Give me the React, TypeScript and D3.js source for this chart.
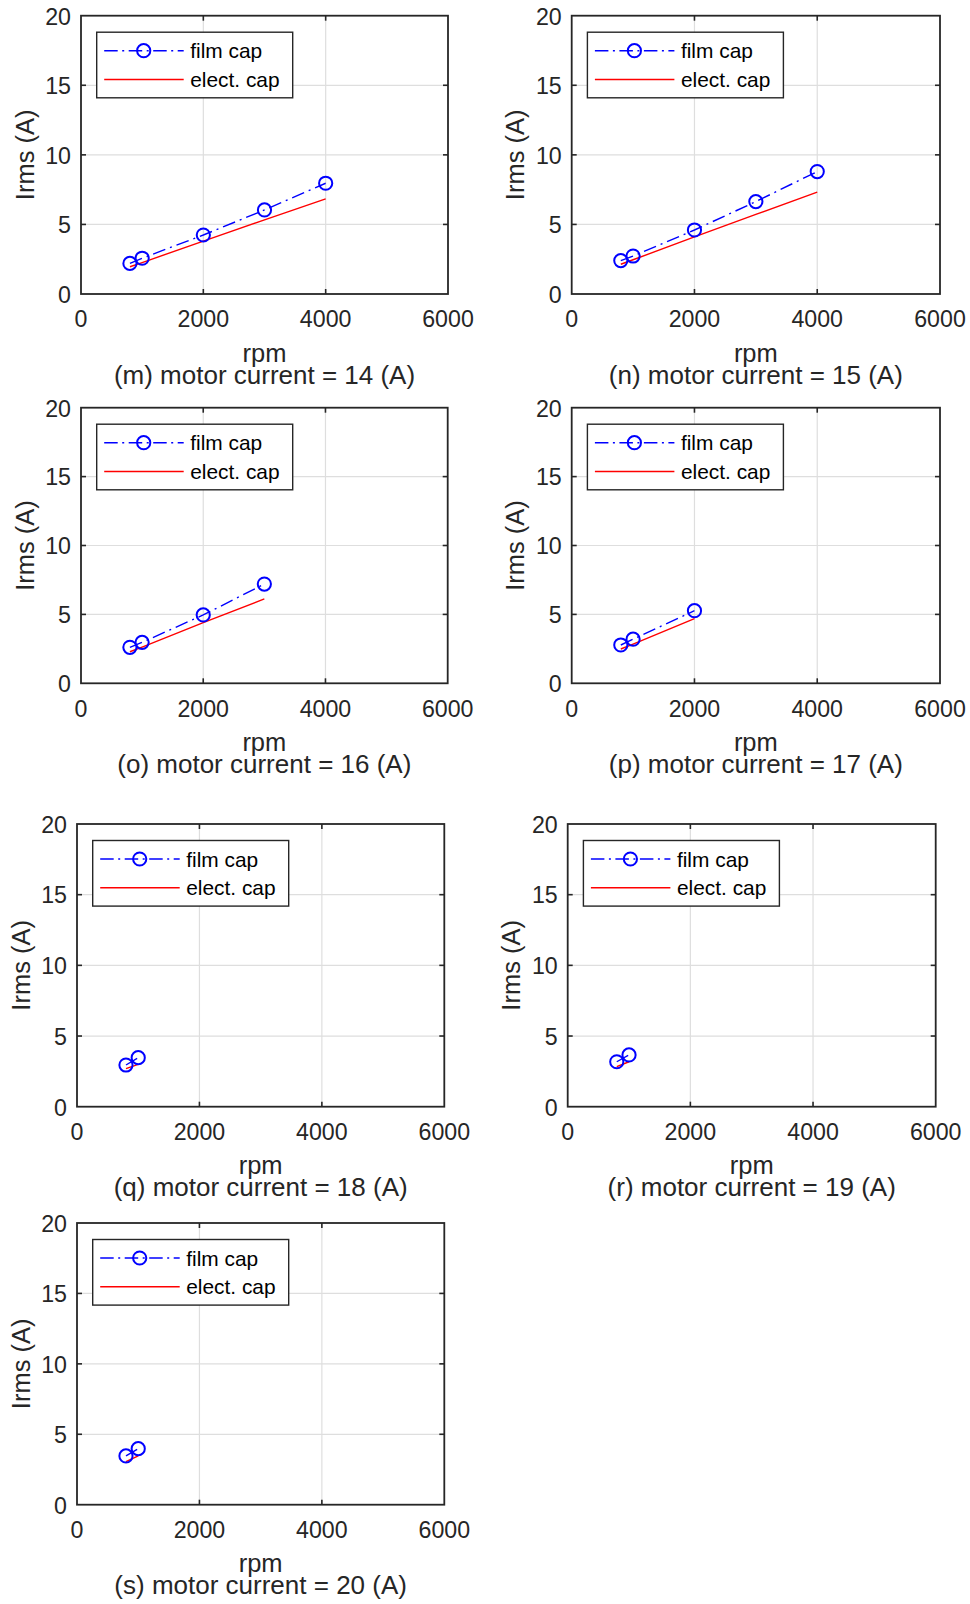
import React from "react";
import * as d3 from "d3";

// ---------- data ----------
const panelLetters = ["m", "n", "o", "p", "q", "r", "s"];
const motorCurrents = [14, 15, 16, 17, 18, 19, 20];

const rpmM = [800, 1000, 2000, 3000, 4000];
const filmM = [2.2, 2.57, 4.24, 6.04, 7.96];
const electM = [1.96, 2.26, 3.8, 5.33, 6.83];

const rpmN = [800, 1000, 2000, 3000, 4000];
const filmN = [2.4, 2.73, 4.6, 6.64, 8.8];
const electN = [2.14, 2.46, 4.1, 5.72, 7.32];

const rpmO = [800, 1000, 2000, 3000];
const filmO = [2.61, 2.97, 4.96, 7.2];
const electO = [2.29, 2.63, 4.4, 6.12];

const rpmP = [800, 1000, 2000];
const filmP = [2.78, 3.2, 5.27];
const electP = [2.49, 2.85, 4.69];

const rpmQ = [800, 1000];
const filmQ = [2.95, 3.47];
const electQ = [2.69, 3.0];

const rpmR = [800, 1000];
const filmR = [3.18, 3.66];
const electR = [2.83, 3.18];

const rpmS = [800, 1000];
const filmS = [3.46, 3.98];
const electS = [3.05, 3.46];

const xTicks = [0, 2000, 4000, 6000];
const yTicks = [0, 5, 10, 15, 20];
const legendLabels = ["film cap", "elect. cap"];
const xLabel = "rpm";
const yLabel = "Irms (A)";

const seriesRpm = [rpmM, rpmN, rpmO, rpmP, rpmQ, rpmR, rpmS];
const seriesFilm = [filmM, filmN, filmO, filmP, filmQ, filmR, filmS];
const seriesElect = [electM, electN, electO, electP, electQ, electR, electS];

// ---------- layout (pixel boxes of each axes) ----------
const boxes = [
  { L: 81, R: 448, T: 15.7, B: 294 },
  { L: 571.7, R: 940, T: 15.7, B: 294 },
  { L: 81, R: 447.7, T: 407.7, B: 683.3 },
  { L: 571.7, R: 940, T: 407.7, B: 683.3 },
  { L: 77, R: 444.3, T: 824, B: 1106.7 },
  { L: 567.7, R: 935.7, T: 824, B: 1106.7 },
  { L: 77, R: 444.3, T: 1223, B: 1504.7 },
];

const FONT = "'Liberation Sans', Arial, Helvetica, sans-serif";
const AX = "#262626";
const GRID = "#dedede";
const BLUE = "#0000ff";
const RED = "#ff0000";

function Panel({ idx }: { idx: number }) {
  const b = boxes[idx];
  const x = d3.scaleLinear().domain([0, 6000]).range([b.L, b.R]);
  const y = d3.scaleLinear().domain([0, 20]).range([b.B, b.T]);
  const rpm = seriesRpm[idx];
  const film = seriesFilm[idx];
  const elect = seriesElect[idx];
  const line = d3
    .line<number>()
    .x((_, i) => x(rpm[i]))
    .y((d) => y(d));
  const tickLen = 5;
  const cx = (b.L + b.R) / 2;
  const cy = (b.T + b.B) / 2;

  // legend
  const lx = b.L + 15.7;
  const ly = b.T + 16.5;
  const lw = 196;
  const lh = 65.6;
  const row1 = ly + 18.5;
  const row2 = ly + 47.3;

  return (
    <g>
      <rect x={b.L} y={b.T} width={b.R - b.L} height={b.B - b.T} fill="#fff" />
      {/* grid */}
      {xTicks.slice(1, -1).map((t) => (
        <line key={"gx" + t} x1={x(t)} x2={x(t)} y1={b.T} y2={b.B} stroke={GRID} strokeWidth={1.2} />
      ))}
      {yTicks.slice(1, -1).map((t) => (
        <line key={"gy" + t} x1={b.L} x2={b.R} y1={y(t)} y2={y(t)} stroke={GRID} strokeWidth={1.2} />
      ))}
      {/* data */}
      <path d={line(elect) || ""} fill="none" stroke={RED} strokeWidth={1.4} />
      <path
        d={line(film) || ""}
        fill="none"
        stroke={BLUE}
        strokeWidth={1.4}
        strokeDasharray="13 5 2 5"
      />
      {film.map((v, i) => (
        <circle key={"c" + i} cx={x(rpm[i])} cy={y(v)} r={6.6} fill="none" stroke={BLUE} strokeWidth={2} />
      ))}
      {/* ticks */}
      {xTicks.slice(1, -1).map((t) => (
        <g key={"tx" + t}>
          <line x1={x(t)} x2={x(t)} y1={b.B} y2={b.B - tickLen} stroke={AX} strokeWidth={1.6} />
          <line x1={x(t)} x2={x(t)} y1={b.T} y2={b.T + tickLen} stroke={AX} strokeWidth={1.6} />
        </g>
      ))}
      {yTicks.slice(1, -1).map((t) => (
        <g key={"ty" + t}>
          <line x1={b.L} x2={b.L + tickLen} y1={y(t)} y2={y(t)} stroke={AX} strokeWidth={1.6} />
          <line x1={b.R} x2={b.R - tickLen} y1={y(t)} y2={y(t)} stroke={AX} strokeWidth={1.6} />
        </g>
      ))}
      <rect x={b.L} y={b.T} width={b.R - b.L} height={b.B - b.T} fill="none" stroke={AX} strokeWidth={1.8} />
      {/* tick labels */}
      {xTicks.map((t) => (
        <text key={"lx" + t} x={x(t)} y={b.B + 33.3} textAnchor="middle" fontSize={23.2} fill={AX} fontFamily={FONT}>
          {t}
        </text>
      ))}
      {yTicks.map((t) => (
        <text key={"ly" + t} x={b.L - 10} y={y(t) + 8.8} textAnchor="end" fontSize={23.2} fill={AX} fontFamily={FONT}>
          {t}
        </text>
      ))}
      {/* axis labels */}
      <text x={cx} y={b.B + 67.5} textAnchor="middle" fontSize={25.5} fill={AX} fontFamily={FONT}>
        {xLabel}
      </text>
      <text x={cx} y={b.B + 89.5} textAnchor="middle" fontSize={26} fill={AX} fontFamily={FONT}>
        {`(${panelLetters[idx]}) motor current = ${motorCurrents[idx]} (A)`}
      </text>
      <text
        transform={`translate(${b.L - 47.5},${cy}) rotate(-90)`}
        textAnchor="middle"
        fontSize={25.5}
        fill={AX}
        fontFamily={FONT}
      >
        {yLabel}
      </text>
      {/* legend */}
      <rect x={lx} y={ly} width={lw} height={lh} fill="#fff" stroke={AX} strokeWidth={1.4} />
      <line x1={lx + 7.5} x2={lx + 87} y1={row1} y2={row1} stroke={BLUE} strokeWidth={1.4} strokeDasharray="13.5 4.5 2 4.5" />
      <circle cx={lx + 47} cy={row1} r={6.6} fill="none" stroke={BLUE} strokeWidth={2} />
      <line x1={lx + 7.5} x2={lx + 87} y1={row2} y2={row2} stroke={RED} strokeWidth={1.4} />
      <text x={lx + 93.5} y={row1 + 7.5} fontSize={20.9} fill="#000" fontFamily={FONT}>
        {legendLabels[0]}
      </text>
      <text x={lx + 93.5} y={row2 + 7.5} fontSize={20.9} fill="#000" fontFamily={FONT}>
        {legendLabels[1]}
      </text>
    </g>
  );
}

export default function App() {
  return (
    <svg
      width={970}
      height={1604}
      viewBox="0 0 970 1604"
      style={{ position: "absolute", left: 0, top: 0, background: "#fff" }}
    >
      <rect x={0} y={0} width={970} height={1604} fill="#fff" />
      {panelLetters.map((_, i) => (
        <Panel key={i} idx={i} />
      ))}
    </svg>
  );
}
